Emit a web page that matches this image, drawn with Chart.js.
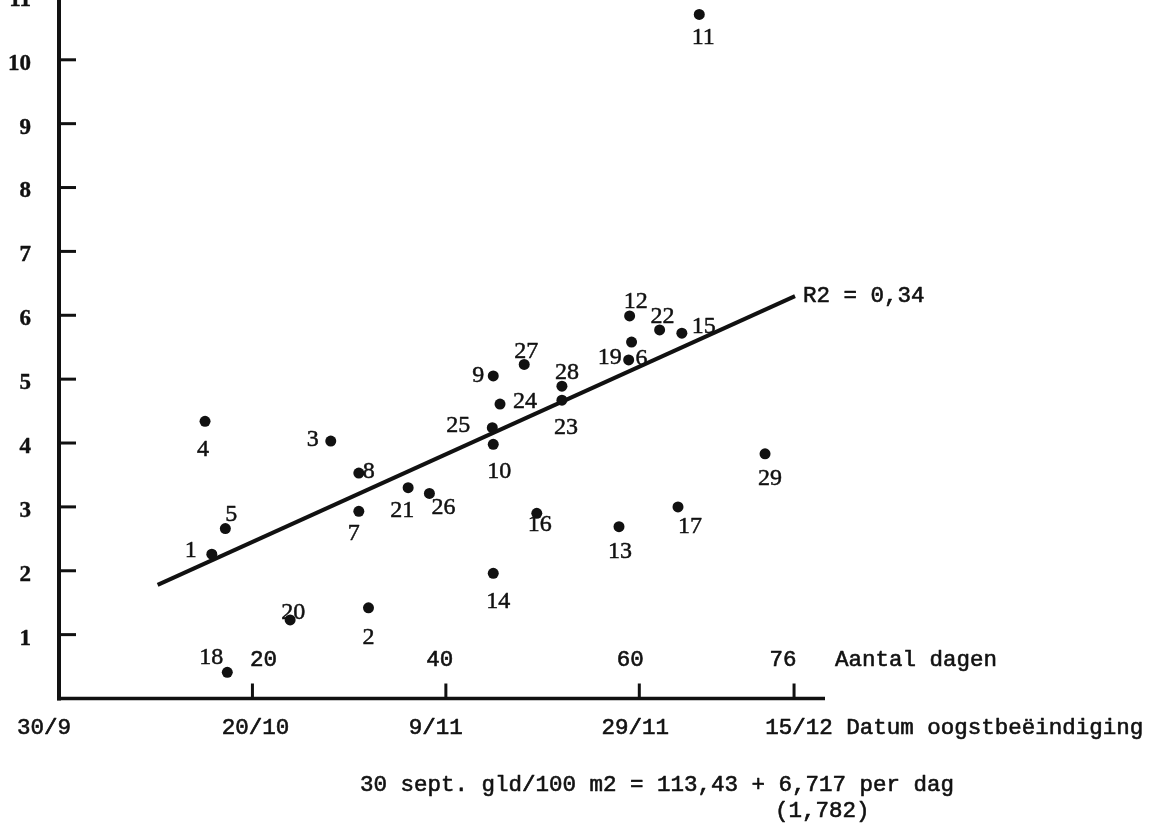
<!DOCTYPE html>
<html><head><meta charset="utf-8">
<script src="https://cdn.jsdelivr.net/npm/chart.js@4/dist/chart.umd.min.js"></script>
<style>html,body{margin:0;padding:0;background:#fff;}canvas{display:block}</style>
</head><body>
<canvas id="c" width="1156" height="830"></canvas>
<script>
// ---- data ----
const pointIds = [1,2,3,4,5,6,7,8,9,10,11,12,13,14,15,16,17,18,19,20,21,22,23,24,25,26,27,28,29];
const daysX   = [15.8,32.0,28.1,15.1,17.2,59.2,31.0,31.0,44.9,44.9,66.2,59.0,57.9,44.9,64.4,49.4,64.0,17.4,58.9,23.9,36.1,62.1,52.0,45.6,44.8,38.3,48.1,52.0,73.0];
const valuesY = [2.26,1.42,4.03,4.34,2.66,5.58,2.93,3.53,5.05,3.98,10.71,5.99,2.69,1.96,5.72,2.90,3.00,0.41,5.30,1.23,3.30,5.77,4.67,4.61,4.24,3.21,5.23,4.89,3.83];
const trendX = [10.2, 76.1];
const trendY = [1.78, 6.30];
const yTickValues = [1,2,3,4,5,6,7,8,9,10,11];
const dayTickValues = [20,40,60,76];
const dayTickLabels = ['20','40','60','76'];
const dateTickValues = [0,20,40,60,76];
const dateTickLabels = ['30/9','20/10','9/11','29/11','15/12'];
const xAxisTitle = 'Aantal dagen';
const dateAxisTitle = 'Datum oogstbeëindiging';
const fitLabel = 'R2 = 0,34';
const footerLines = ['30 sept. gld/100 m2 = 113,43 + 6,717 per dag', '(1,782)'];

// ---- label placement (style, px offsets from each point) ----
const labelOffsets = [[-21,-3],[0,30],[-18,-1],[-2,28],[6,-14],[10,17],[-5,22],[10,-1],[-15,0],[6,27],[4,23],[6,-14],[1,25],[5,28],[22,-6],[3,11],[12,20],[-16,-15],[-19,-2],[3,-7],[-6,23],[3,-13],[4,27],[25,-2],[-34,-2],[14,14],[2,-13],[5,-13],[5,25]];
const dayLabelShift = [11,-6,-9,-11];
const dateLabelShift = [-15,3,-10,-4,5];

const MONO = '"Liberation Mono", "DejaVu Sans Mono", monospace';
const SERIF = '"Liberation Serif", "DejaVu Serif", serif';
const INK = '#111';

function heavyText(ctx, s, x, y, w) {
  ctx.lineWidth = w;
  ctx.strokeText(s, x, y);
  ctx.fillText(s, x, y);
}

const overlay = {
  id: 'overlay',
  afterDraw(chart) {
    const ctx = chart.ctx, xs = chart.scales.x, ys = chart.scales.y, ca = chart.chartArea;
    const x0 = ca.left, y0 = ca.bottom;
    ctx.save();
    ctx.strokeStyle = INK; ctx.fillStyle = INK; ctx.lineCap = 'butt'; ctx.lineJoin = 'round';
    // axes
    ctx.lineWidth = 4;
    ctx.beginPath(); ctx.moveTo(x0, 0); ctx.lineTo(x0, y0 + 2); ctx.stroke();
    ctx.lineWidth = 3.5;
    ctx.beginPath(); ctx.moveTo(x0 - 2, y0); ctx.lineTo(ca.right, y0); ctx.stroke();
    // y ticks inside
    ctx.font = 'bold 23px ' + SERIF;
    ctx.textAlign = 'right'; ctx.textBaseline = 'middle';
    yTickValues.forEach(v => {
      const py = ys.getPixelForValue(v);
      ctx.lineWidth = 3;
      ctx.beginPath(); ctx.moveTo(x0, py); ctx.lineTo(x0 + 17, py); ctx.stroke();
      heavyText(ctx, String(v), 31, py + 4, 0.4);
    });
    // x ticks upward
    ctx.font = '22.5px ' + MONO;
    ctx.textAlign = 'center';
    dayTickValues.forEach((v, i) => {
      const px = xs.getPixelForValue(v);
      ctx.lineWidth = 3;
      ctx.beginPath(); ctx.moveTo(px, y0); ctx.lineTo(px, y0 - 15); ctx.stroke();
      heavyText(ctx, dayTickLabels[i], px + dayLabelShift[i], y0 - 38, 0.6);
    });
    ctx.textAlign = 'left';
    heavyText(ctx, xAxisTitle, 835, y0 - 38, 0.6);
    // date labels under axis
    ctx.textAlign = 'center';
    let lastRight = 0;
    dateTickValues.forEach((v, i) => {
      const px = xs.getPixelForValue(v) + dateLabelShift[i];
      heavyText(ctx, dateTickLabels[i], px, y0 + 30, 0.6);
      lastRight = px + ctx.measureText(dateTickLabels[i]).width / 2;
    });
    ctx.textAlign = 'left';
    heavyText(ctx, ' ' + dateAxisTitle, lastRight, y0 + 30, 0.6);
    // footer
    heavyText(ctx, footerLines[0], 360, y0 + 87, 0.6);
    heavyText(ctx, footerLines[1], 775, y0 + 113, 0.6);
    // R2 label at end of trend line
    const meta = chart.getDatasetMeta(1);
    const endPt = meta.data[meta.data.length - 1];
    heavyText(ctx, fitLabel, endPt.x + 8, endPt.y, 0.6);
    // point labels
    const pm = chart.getDatasetMeta(0);
    ctx.font = '24px ' + SERIF;
    ctx.textAlign = 'center';
    pm.data.forEach((el, i) => {
      const o = labelOffsets[i];
      heavyText(ctx, String(pointIds[i]), el.x + o[0], el.y + o[1], 0.5);
    });
    ctx.restore();
  }
};

new Chart(document.getElementById('c'), {
  type: 'scatter',
  data: {
    datasets: [
      {
        label: 'bedrijven',
        data: daysX.map((x, i) => ({x, y: valuesY[i]})),
        pointRadius: 5.5, pointHoverRadius: 5.5,
        backgroundColor: INK, borderWidth: 0
      },
      {
        type: 'line',
        label: 'regressie',
        data: trendX.map((x, i) => ({x, y: trendY[i]})),
        borderColor: INK, borderWidth: 4, pointRadius: 0, fill: false, tension: 0
      }
    ]
  },
  options: {
    responsive: false, animation: false, devicePixelRatio: 1,
    layout: { padding: { left: 59, right: 331, top: 0, bottom: 131.5 } },
    plugins: { legend: { display: false }, tooltip: { enabled: false } },
    scales: {
      x: { type: 'linear', display: false, min: 0, max: 79.2 },
      y: { type: 'linear', display: false, min: 0, max: 10.85 }
    }
  },
  plugins: [overlay]
});
</script>
</body></html>
